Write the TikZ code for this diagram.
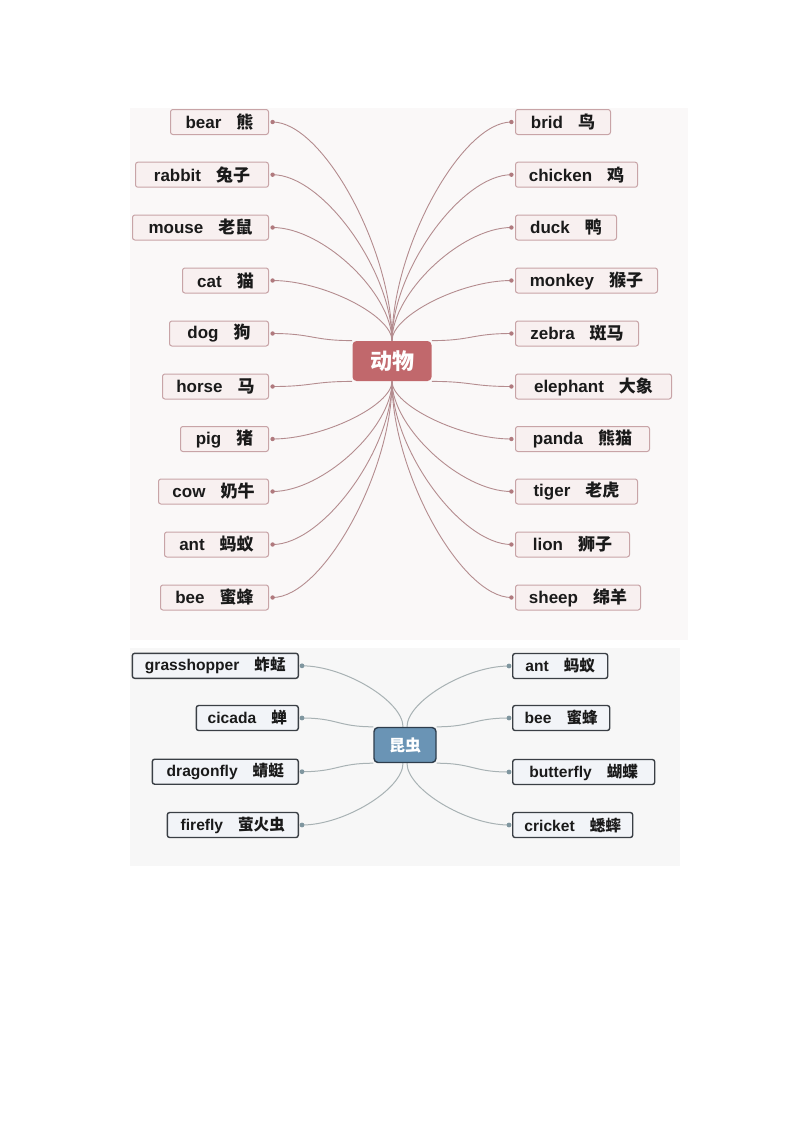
\documentclass[tikz,border=0pt]{standalone}
\usepackage{fontspec}
\setmainfont{Liberation Sans}
\newfontfamily\cjk{Noto Sans CJK SC}
\usetikzlibrary{calc}
\definecolor{topbg}{HTML}{FAF8F8}
\definecolor{botbg}{HTML}{F7F7F7}
\definecolor{leafdraw}{HTML}{C8A4A7}
\definecolor{leaffill}{HTML}{F8F0F0}
\definecolor{topline}{HTML}{B48C8F}
\definecolor{topdot}{HTML}{B07A7E}
\definecolor{animalfill}{HTML}{C1686C}
\definecolor{kcfill}{HTML}{6A94B5}
\definecolor{kcdraw}{HTML}{2E3D4C}
\definecolor{botline}{HTML}{A8B2B4}
\definecolor{botdot}{HTML}{7F969F}
\definecolor{bleafdraw}{HTML}{3A3F45}
\definecolor{bleaffill}{HTML}{F2F4F8}
\definecolor{ink}{HTML}{1A1A1A}
\pgfdeclarelayer{bg}
\pgfdeclarelayer{edges}
\pgfsetlayers{bg,edges,main}
\newcommand\enzh[2]{#1\hspace{7.5pt}{\cjk #2}}
% curve that leaves #2 vertically and arrives horizontally at #3
\newcommand\mmcurve[3]{\path (#2) coordinate (mmA) (#3) coordinate (mmB);
  \draw[#1] let \p1=(mmA), \p2=(mmB) in
  (\p1) .. controls (\x1,{\y1+0.42*(\y2-\y1)}) and ({\x2+0.42*(\x1-\x2)},\y2) .. (\p2);}
% gentle horizontal S-curve
\newcommand\hcurve[3]{\path (#2) coordinate (mmA) (#3) coordinate (mmB);
  \draw[#1] let \p1=(mmA), \p2=(mmB) in
  (\p1) .. controls ({\x1+0.5*(\x2-\x1)},\y1) and ({\x2+0.5*(\x1-\x2)},\y2) .. (\p2);}
\begin{document}
\begin{tikzpicture}[x=0.5pt,y=-0.5pt,
  leaf/.style={draw=leafdraw, fill=leaffill, line width=0.5pt, rounded corners=1.2pt,
    minimum height=12.5pt, inner xsep=1pt, inner ysep=0pt, text=ink,
    font=\fontsize{8.5}{10}\selectfont\bfseries},
  bleaf/.style={draw=bleafdraw, fill=bleaffill, line width=0.7pt, rounded corners=1.2pt,
    minimum height=12.5pt, inner xsep=1pt, inner ysep=0pt, text=ink,
    font=\fontsize{7.8}{9}\selectfont\bfseries},
  tconn/.style={draw=topline, line width=0.45pt},
  bconn/.style={draw=botline, line width=0.5pt},
  tdot/.style={fill=topdot, draw=none, circle, inner sep=0pt, minimum size=2.2pt},
  bdot/.style={fill=botdot, draw=none, circle, inner sep=0pt, minimum size=2.4pt}]
\useasboundingbox (0,0) rectangle (800,1132);
\begin{pgfonlayer}{bg}
\fill[white] (0,0) rectangle (800,1132);
\fill[topbg] (130,108) rectangle (688,640);
\fill[botbg] (130,648) rectangle (680,866);
\end{pgfonlayer}

% ---------- top: 动物 ----------
\node[fill=animalfill, rounded corners=2pt, minimum width=39.5pt, minimum height=20pt,
  inner sep=0pt, text=white, font=\fontsize{11}{12}\selectfont\bfseries\cjk] (animal) at (392,361) {动物};

\foreach \nm/\xl/\yc/\zh in {bear/171/122/熊, rabbit/136/174.7/兔子, mouse/133/227.5/老鼠,
  cat/183/280.5/猫, dog/170/333.5/狗, horse/163/386.5/马, pig/181/439/猪,
  cow/159/491.5/奶牛, ant/165/544.5/蚂蚁, bee/161/597.5/蜜蜂}{
  \pgfmathsetmacro\w{(269-\xl)/2}
  \node[leaf, anchor=east, minimum width=\w pt] (L-\nm) at (269,\yc) {\enzh{\nm}{\zh}};
  \coordinate (L-\nm-d) at ([xshift=1.8pt]L-\nm.east);
  \node[tdot] at (L-\nm-d) {};
}
\foreach \nm/\xr/\yc/\zh in {brid/610/122/鸟, chicken/637/174.7/鸡, duck/616/227.5/鸭,
  monkey/657/280.5/猴子, zebra/638/333.5/斑马, elephant/671/386.5/大象, panda/649/439/熊猫,
  tiger/637/491.5/老虎, lion/629/544.5/狮子, sheep/640/597.5/绵羊}{
  \pgfmathsetmacro\w{(\xr-515)/2}
  \node[leaf, anchor=west, minimum width=\w pt] (R-\nm) at (515,\yc) {\enzh{\nm}{\zh}};
  \coordinate (R-\nm-d) at ([xshift=-1.8pt]R-\nm.west);
  \node[tdot] at (R-\nm-d) {};
}
\begin{pgfonlayer}{edges}
\foreach \nm in {bear,rabbit,mouse,cat} {\mmcurve{tconn}{animal.north}{L-\nm-d}}
\foreach \nm in {pig,cow,ant,bee} {\mmcurve{tconn}{animal.south}{L-\nm-d}}
\foreach \nm in {brid,chicken,duck,monkey} {\mmcurve{tconn}{animal.north}{R-\nm-d}}
\foreach \nm in {panda,tiger,lion,sheep} {\mmcurve{tconn}{animal.south}{R-\nm-d}}
\hcurve{tconn}{animal.north west}{L-dog-d}
\hcurve{tconn}{animal.south west}{L-horse-d}
\hcurve{tconn}{animal.north east}{R-zebra-d}
\hcurve{tconn}{animal.south east}{R-elephant-d}
\end{pgfonlayer}

% ---------- bottom: 昆虫 ----------
\node[fill=kcfill, draw=kcdraw, line width=0.7pt, rounded corners=2pt, minimum width=31pt,
  minimum height=17.5pt, inner sep=0pt, text=white, font=\fontsize{8}{9}\selectfont\bfseries\cjk] (kc) at (405,745) {昆虫};

\foreach \nm/\xl/\yc/\zh in {grasshopper/133/665.8/蚱蜢, cicada/197/718/蝉,
  dragonfly/153/771.7/蜻蜓, firefly/168/825/萤火虫}{
  \pgfmathsetmacro\w{(299-\xl)/2}
  \node[bleaf, anchor=east, minimum width=\w pt] (BL-\nm) at (299,\yc) {\enzh{\nm}{\zh}};
  \coordinate (BL-\nm-d) at ([xshift=1.5pt]BL-\nm.east);
  \node[bdot] at (BL-\nm-d) {};
}
\foreach \nm/\xr/\yc/\zh in {ant/607/666/蚂蚁, bee/609/718/蜜蜂,
  butterfly/654/772/蝴蝶, cricket/632/825/蟋蟀}{
  \pgfmathsetmacro\w{(\xr-512)/2}
  \node[bleaf, anchor=west, minimum width=\w pt] (BR-\nm) at (512,\yc) {\enzh{\nm}{\zh}};
  \coordinate (BR-\nm-d) at ([xshift=-1.5pt]BR-\nm.west);
  \node[bdot] at (BR-\nm-d) {};
}
\coordinate (kcNL) at ([xshift=-1pt]kc.north);
\coordinate (kcNR) at ([xshift=1pt]kc.north);
\coordinate (kcSL) at ([xshift=-1pt]kc.south);
\coordinate (kcSR) at ([xshift=1pt]kc.south);
\begin{pgfonlayer}{edges}
\mmcurve{bconn}{kcNL}{BL-grasshopper-d}
\mmcurve{bconn}{kcSL}{BL-firefly-d}
\mmcurve{bconn}{kcNR}{BR-ant-d}
\mmcurve{bconn}{kcSR}{BR-cricket-d}
\hcurve{bconn}{kc.north west}{BL-cicada-d}
\hcurve{bconn}{kc.south west}{BL-dragonfly-d}
\hcurve{bconn}{kc.north east}{BR-bee-d}
\hcurve{bconn}{kc.south east}{BR-butterfly-d}
\end{pgfonlayer}
\end{tikzpicture}
\end{document}
